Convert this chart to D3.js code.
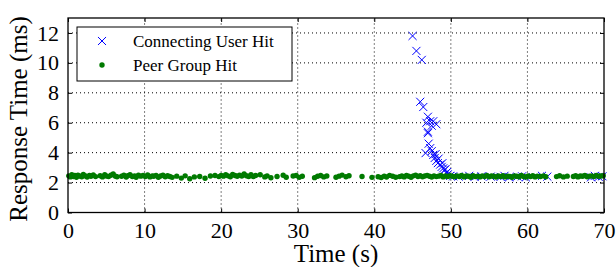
<!DOCTYPE html>
<html>
<head>
<meta charset="utf-8">
<script src="https://d3js.org/d3.v7.min.js"></script>
<style>
body { margin: 0; background: #fff; }
svg text { font-family: "Liberation Serif", "DejaVu Serif", serif; fill: #000; }
</style>
</head>
<body>
<div id="plot"></div>
<script>

var width = 616;
var height = 267;
var margin = { left: 68, right: 12, top: 18, bottom: 54.5 };

// Connecting User Hit (blue crosses)
var userTime = [45.0, 45.5, 46.2, 46.0, 46.4, 47.0, 47.3, 46.8, 48.1, 47.5, 47.7, 47.0, 47.0, 47.1,
  46.7, 47.3, 47.5, 47.7, 47.9, 48.0, 48.1, 48.3, 48.4, 48.6, 48.8, 48.9, 49.0, 49.2, 49.3, 49.4, 49.5, 49.6, 49.9,
  50.3, 51.0, 52.4, 53.1, 54.0, 55.2, 56.5, 57.0, 57.6, 58.7, 59.3, 59.8, 61.9, 62.6, 68.3, 68.8, 69.3, 69.8];
var userMs = [11.8, 10.8, 10.2, 7.4, 7.05, 6.4, 6.1, 6.0, 5.9, 5.8, 6.1, 5.4, 5.3, 4.6,
  3.97, 4.3, 4.1, 3.85, 3.65, 3.9, 3.45, 3.3, 3.6, 3.2, 3.05, 3.3, 2.95, 2.85, 2.9, 2.65, 2.7, 2.55, 2.45,
  2.42, 2.4, 2.45, 2.38, 2.42, 2.4, 2.38, 2.45, 2.35, 2.4, 2.42, 2.35, 2.45, 2.4, 2.35, 2.45, 2.38, 2.42];

// Peer Group Hit (green dots)
var peerTime = [
  0.1, 0.3, 0.5, 0.7, 0.9, 1.1, 1.3, 1.6, 1.8, 2.0, 2.3, 2.5, 2.8, 3.0, 3.3, 3.6,
  4.2, 4.5, 4.8, 5.0, 5.3, 5.6, 5.9, 6.2, 6.4,
  7.0, 7.3, 7.6, 7.8, 8.1, 8.4, 8.7, 8.9, 9.2, 9.5, 9.8, 10.1, 10.4, 10.7, 11.0, 11.2, 11.5, 11.8, 12.1, 12.4, 12.7, 13.0, 13.3, 13.6,
  14.2, 14.8, 15.3, 15.9, 16.5, 17.2, 17.9, 18.6, 19.2,
  19.7, 20.0, 20.3, 20.6, 20.9, 21.2, 21.5, 21.8, 22.1, 22.4, 22.7, 23.0, 23.3, 23.6, 23.9, 24.2, 24.5,
  25.1, 25.7, 26.0, 26.5, 27.3, 28.1, 28.5, 29.4, 29.8, 30.2, 30.6,
  32.2, 32.6, 33.0, 33.4, 33.8, 35.0, 35.4, 35.8, 36.3, 36.7, 38.4, 39.7,
  40.5, 40.9, 41.3, 41.6, 42.0, 42.4, 42.8,
  43.3, 43.6, 43.9, 44.2, 44.5, 44.8, 45.1, 45.4, 45.7, 46.0, 46.3, 46.6, 46.9, 47.2, 47.5, 47.8, 48.1, 48.4, 48.7, 49.0, 49.3, 49.6, 49.9,
  50.2, 50.5, 50.8, 51.1, 51.4, 51.7, 52.0, 52.3, 52.6, 52.9, 53.2, 53.5, 53.8, 54.1, 54.4, 54.7, 55.0, 55.3, 55.6, 55.9,
  56.2, 56.5, 56.8, 57.1, 57.4, 57.7, 58.0, 58.3, 58.6, 58.9, 59.2, 59.5, 59.8, 60.1, 60.4, 60.7, 61.0, 61.3, 61.7, 62.1, 62.4,
  63.8, 64.2, 64.7, 65.2,
  66.0, 66.3, 66.6, 66.9, 67.2, 67.5, 67.8, 68.1, 68.4, 68.7, 69.0, 69.3, 69.6, 69.9];
var peerMs = [
  2.45, 2.38, 2.52, 2.41, 2.47, 2.36, 2.50, 2.43, 2.39, 2.55, 2.44, 2.37, 2.48, 2.42, 2.51, 2.40,
  2.46, 2.38, 2.53, 2.44, 2.40, 2.49, 2.57, 2.43, 2.39,
  2.42, 2.50, 2.37, 2.46, 2.52, 2.41, 2.44, 2.36, 2.49, 2.43, 2.47, 2.40, 2.51, 2.38, 2.45, 2.42, 2.48, 2.36, 2.44, 2.50, 2.39, 2.46, 2.41, 2.35,
  2.43, 2.30, 2.45, 2.26, 2.38, 2.41, 2.29, 2.44, 2.47,
  2.40, 2.48, 2.43, 2.52, 2.45, 2.39, 2.55, 2.47, 2.42, 2.50, 2.44, 2.58, 2.46, 2.41, 2.53, 2.40, 2.47,
  2.52, 2.38, 2.45, 2.32, 2.41, 2.49, 2.36, 2.44, 2.47, 2.35, 2.42,
  2.33, 2.42, 2.47, 2.38, 2.44, 2.36, 2.43, 2.50, 2.39, 2.46, 2.41, 2.35,
  2.39, 2.34, 2.43, 2.37, 2.48, 2.42, 2.36,
  2.40, 2.44, 2.38, 2.47, 2.42, 2.36, 2.45, 2.50, 2.41, 2.46, 2.39, 2.44, 2.48, 2.42, 2.37, 2.45, 2.40, 2.43, 2.47, 2.38, 2.44, 2.41, 2.46,
  2.42, 2.39, 2.45, 2.41, 2.47, 2.38, 2.44, 2.42, 2.36, 2.46, 2.40, 2.43, 2.38, 2.45, 2.41, 2.47, 2.39, 2.44, 2.42, 2.37,
  2.44, 2.40, 2.46, 2.38, 2.43, 2.41, 2.36, 2.45, 2.42, 2.39, 2.47, 2.41, 2.37, 2.44, 2.40, 2.46, 2.38, 2.43, 2.41, 2.45, 2.39,
  2.40, 2.46, 2.38, 2.43,
  2.41, 2.46, 2.38, 2.44, 2.42, 2.47, 2.39, 2.43, 2.45, 2.40, 2.48, 2.42, 2.44, 2.46];

var xTicks = [0, 10, 20, 30, 40, 50, 60, 70];
var yTicks = [0, 2, 4, 6, 8, 10, 12];
var seriesNames = ["Connecting User Hit", "Peer Group Hit"];

var svg = d3.select("#plot").append("svg")
  .attr("width", width).attr("height", height);

var xScale = d3.scaleLinear().domain([0, 70]).range([margin.left, width - margin.right]);
var yScale = d3.scaleLinear().domain([0, 13]).range([height - margin.bottom, margin.top]);

var x0 = xScale(0), x1 = xScale(70), y0 = yScale(0), y1 = yScale(13);

// dotted grid
svg.append("g").selectAll("line").data(xTicks.slice(1, -1)).enter().append("line")
  .attr("x1", function (d) { return xScale(d); }).attr("x2", function (d) { return xScale(d); })
  .attr("y1", y0).attr("y2", y1)
  .style("stroke", "#000").style("stroke-dasharray", "1,3").style("stroke-width", 1);
svg.append("g").selectAll("line").data(yTicks.slice(1)).enter().append("line")
  .attr("y1", function (d) { return yScale(d); }).attr("y2", function (d) { return yScale(d); })
  .attr("x1", x0).attr("x2", x1)
  .style("stroke", "#000").style("stroke-dasharray", "1,3").style("stroke-width", 1);

// axes, ticks pointing inward on all four sides
var bottomAxis = svg.append("g").attr("transform", "translate(0," + y0 + ")")
  .call(d3.axisBottom(xScale).tickValues(xTicks).tickSize(-4).tickPadding(10));
var topAxis = svg.append("g").attr("transform", "translate(0," + y1 + ")")
  .call(d3.axisTop(xScale).tickValues(xTicks).tickSize(-4).tickFormat(""));
var leftAxis = svg.append("g").attr("transform", "translate(" + x0 + ",0)")
  .call(d3.axisLeft(yScale).tickValues(yTicks).tickSize(-4).tickPadding(9));
var rightAxis = svg.append("g").attr("transform", "translate(" + x1 + ",0)")
  .call(d3.axisRight(yScale).tickValues(yTicks).tickSize(-4).tickFormat(""));

svg.selectAll(".domain").remove();
svg.selectAll(".tick line").style("stroke", "#000");
[bottomAxis, leftAxis].forEach(function (ax) {
  ax.attr("font-family", "Liberation Serif").attr("font-size", 22);
  ax.selectAll("text").style("font-size", "22px").style("font-family", "'Liberation Serif', serif");
});

// markers
var cross = d3.symbol().type(d3.symbolX).size(44);
svg.append("g").selectAll("path").data(d3.range(userTime.length)).enter().append("path")
  .attr("d", cross)
  .attr("transform", function (i) { return "translate(" + xScale(userTime[i]) + "," + yScale(userMs[i]) + ")"; })
  .style("fill", "none").style("stroke", "#0000ff").style("stroke-width", 1);

svg.append("g").selectAll("circle").data(d3.range(peerTime.length)).enter().append("circle")
  .attr("cx", function (i) { return xScale(peerTime[i]); })
  .attr("cy", function (i) { return yScale(peerMs[i]); })
  .attr("r", 2.7)
  .style("fill", "#007a00");

// frame
svg.append("rect")
  .attr("x", x0).attr("y", y1).attr("width", x1 - x0).attr("height", y0 - y1)
  .style("fill", "none").style("stroke", "#000").style("stroke-width", 1.3);

// legend
var legend = svg.append("g");
legend.append("rect").attr("x", 77).attr("y", 27).attr("width", 215).attr("height", 54)
  .style("fill", "#fff").style("stroke", "#000").style("stroke-width", 1);
legend.append("path").attr("d", cross).attr("transform", "translate(102,41)")
  .style("fill", "none").style("stroke", "#0000ff").style("stroke-width", 1);
legend.append("circle").attr("cx", 102).attr("cy", 65).attr("r", 2.7).style("fill", "#007a00");
legend.selectAll("text").data(seriesNames).enter().append("text")
  .attr("x", 133).attr("y", function (d, i) { return 41 + i * 24; })
  .attr("dy", "0.33em")
  .style("font-size", "17px")
  .text(function (d) { return d; });

// axis titles
svg.append("text").attr("x", (x0 + x1) / 2).attr("y", 262)
  .attr("text-anchor", "middle").style("font-size", "25px").text("Time (s)");
svg.append("text").attr("transform", "translate(27," + 119 + ") rotate(-90)")
  .attr("text-anchor", "middle").style("font-size", "25px").text("Response Time (ms)");

</script>
</body>
</html>
